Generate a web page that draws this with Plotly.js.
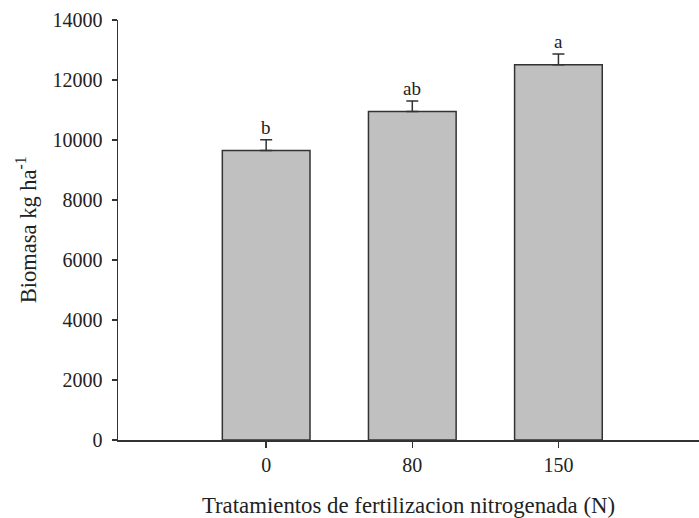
<!DOCTYPE html>
<html>
<head>
<meta charset="utf-8">
<script src="https://cdn.plot.ly/plotly-3.0.1.min.js"></script>
<style>html,body{margin:0;padding:0;background:#fff;}#chart{width:699px;height:518px;}</style>
</head>
<body>
<div id="chart"></div>
<script>
const categories = ["0", "80", "150"];
const biomass = [9650, 10950, 12510];
const errors = [355, 350, 360];
const letters = ["b", "ab", "a"];
const yTicks = [0, 2000, 4000, 6000, 8000, 10000, 12000, 14000];

const FONT = "Liberation Serif, Times New Roman, serif";

const trace = {
  type: "bar",
  x: categories,
  y: biomass,
  marker: {color: "#c0c0c0", line: {color: "#333333", width: 1.5}},
  error_y: {type: "data", symmetric: false, array: errors, arrayminus: [0,0,0], color: "#333333", thickness: 1.5, width: 6},
  hoverinfo: "none"
};

const annotations = categories.map((c, i) => ({
  x: i, y: biomass[i] + errors[i], xref: "x", yref: "y",
  text: letters[i], showarrow: false, yanchor: "bottom", yshift: 0,
  font: {family: FONT, size: 19, color: "#222"}
}));

// y-axis title as rotated annotation
annotations.push({
  xref: "paper", yref: "paper",
  x: -0.158, y: 0.5, xanchor: "center", yanchor: "middle",
  textangle: -90, showarrow: false,
  text: "Biomasa kg ha<sup>-1</sup>",
  font: {family: FONT, size: 22.5, color: "#222"}
});

const layout = {
  width: 699, height: 518,
  margin: {l: 118, r: 0, t: 20, b: 77.5},
  paper_bgcolor: "#fff", plot_bgcolor: "#fff",
  showlegend: false,
  bargap: 0.4,
  font: {family: FONT, color: "#222", size: 20},
  xaxis: {
    type: "category", range: [-1.014, 2.962],
    showline: true, linecolor: "#333", linewidth: 1.5,
    ticks: "outside", ticklen: 6, tickcolor: "#333", tickwidth: 1.5,
    showgrid: false, zeroline: false,
    tickfont: {size: 20, color: "#222"},
    title: {text: "Tratamientos de fertilizacion nitrogenada (N)", font: {size: 22.8, color: "#222"}, standoff: 23}
  },
  yaxis: {
    range: [0, 14000], tickvals: yTicks, ticktext: yTicks.map(v => v + "\u00a0"),
    showline: true, linecolor: "#333", linewidth: 1.5,
    ticks: "outside", ticklen: 5, tickcolor: "#333", tickwidth: 1.5,
    showgrid: false, zeroline: false,
    tickfont: {size: 20, color: "#222"}
  },
  annotations: annotations
};

Plotly.newPlot("chart", [trace], layout, {displayModeBar: false, staticPlot: true});
</script>
</body>
</html>
